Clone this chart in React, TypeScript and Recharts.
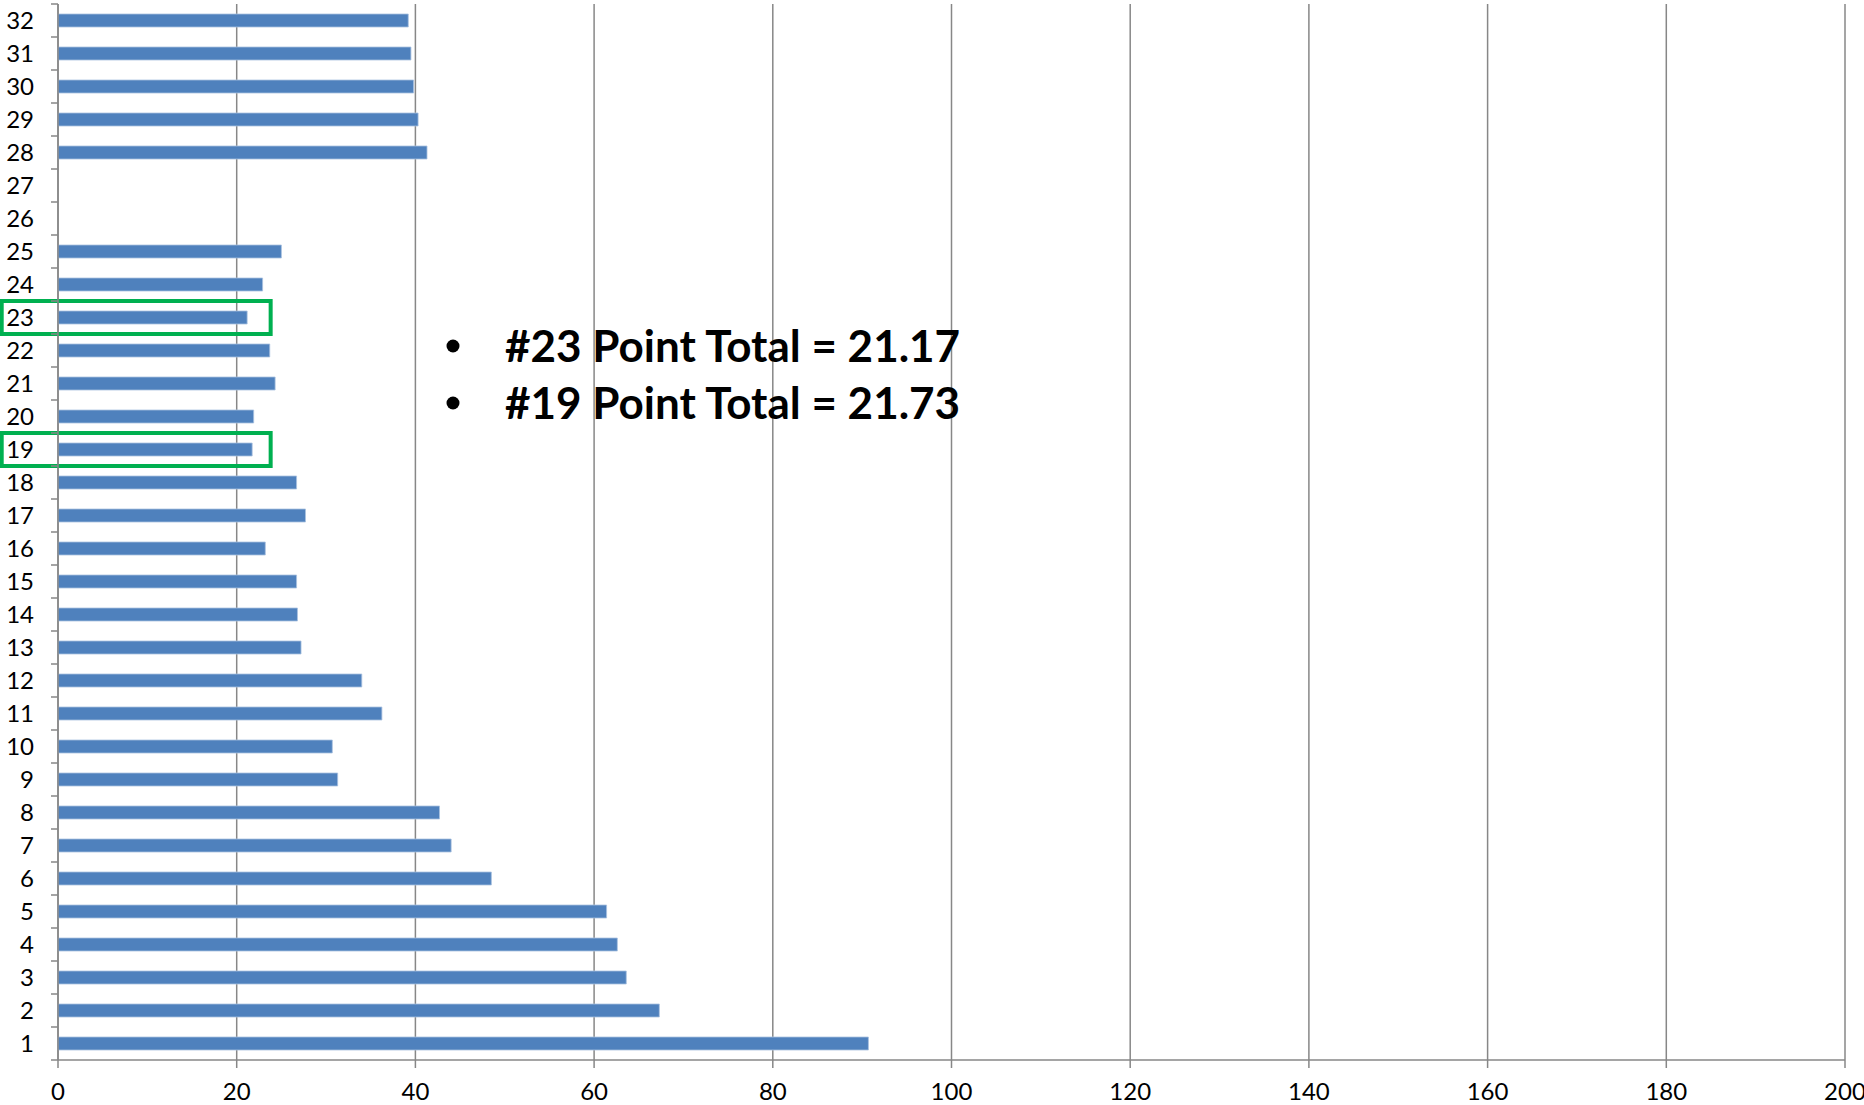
import { Bar, BarChart, CartesianGrid, ReferenceArea, XAxis, YAxis } from "recharts";

const categories = [
    "1", "2", "3", "4", "5", "6", "7", "8", "9", "10", "11", "12", "13", "14", "15", "16",
    "17", "18", "19", "20", "21", "22", "23", "24", "25", "26", "27", "28", "29", "30", "31", "32"
];

const pointTotals: (number | null)[] = [
    90.7, 67.3, 63.6, 62.6, 61.4, 48.5, 44.0, 42.7, 31.3, 30.7, 36.25, 34.0, 27.2, 26.8, 26.7, 23.2,
    27.7, 26.7, 21.73, 21.9, 24.3, 23.7, 21.17, 22.9, 25.0, null, null, 41.3, 40.3, 39.8, 39.5, 39.2
];

const xTicks = [0, 20, 40, 60, 80, 100, 120, 140, 160, 180, 200];

const highlighted = ["23", "19"];

const notes = ["#23 Point Total = 21.17", "#19 Point Total = 21.73"];

const chartData = categories.map((category, i) => ({ category, total: pointTotals[i] }));

const AXIS_GREY = "#878787";
const FONT = "Lato, 'Open Sans', sans-serif";

type TickProps = {
    x?: number;
    y?: number;
    index?: number;
    payload?: { value: string; offset?: number };
};

// excel style category ticks: the marks sit on the boundaries between categories
function CategoryTick({ x = 0, y = 0, index = 0, payload }: TickProps) {
    const half = payload?.offset ?? 16.5;
    return (
        <g>
            <line x1={x - 7} x2={x} y1={y + half} y2={y + half} stroke={AXIS_GREY} strokeWidth={1.5} />
            {index === categories.length - 1 && (
                <line x1={x - 7} x2={x} y1={y - half} y2={y - half} stroke={AXIS_GREY} strokeWidth={1.5} />
            )}
            <text x={x - 24} y={y} dy="0.36em" textAnchor="end" fontSize={24} fontFamily={FONT} fill="#000">
                {payload?.value}
            </text>
        </g>
    );
}

export default function App() {
    return (
        <div style={{ position: "absolute", left: 0, top: 0, width: 1864, height: 1105, background: "#fff" }}>
            <BarChart
                width={1864}
                height={1105}
                data={chartData}
                layout="vertical"
                margin={{ top: 4, right: 19, bottom: 0, left: 0 }}
                barSize={13}
            >
                <CartesianGrid horizontal={false} stroke={AXIS_GREY} strokeWidth={1.5} />
                <XAxis
                    type="number"
                    domain={[0, 200]}
                    ticks={xTicks}
                    interval={0}
                    height={45}
                    tickSize={8}
                    tickMargin={15}
                    stroke={AXIS_GREY}
                    strokeWidth={1.5}
                    tick={{ fontSize: 24, fontFamily: FONT, fill: "#000" }}
                />
                <YAxis
                    type="category"
                    dataKey="category"
                    reversed
                    width={58}
                    interval={0}
                    tickSize={0}
                    tickMargin={0}
                    tickLine={false}
                    stroke={AXIS_GREY}
                    strokeWidth={1.5}
                    tick={<CategoryTick />}
                />
                <Bar dataKey="total" fill="#4f81bd" stroke="#a9c1e0" strokeWidth={0.8} isAnimationActive={false} />
                {highlighted.map((c) => (
                    <ReferenceArea
                        key={c}
                        y1={c}
                        y2={c}
                        x1={-6.3}
                        x2={23.8}
                        ifOverflow="visible"
                        fill="none"
                        fillOpacity={0}
                        stroke="#00b050"
                        strokeWidth={4}
                    />
                ))}
            </BarChart>
            <svg
                width={1864}
                height={1105}
                style={{ position: "absolute", left: 0, top: 0, pointerEvents: "none" }}
            >
                {notes.map((note, i) => (
                    <g key={note}>
                        <circle cx={453} cy={346 + i * 57} r={6.5} fill="#000" />
                        <text x={505} y={362 + i * 57} fontSize={44} fontWeight={700} fontFamily={FONT} fill="#000">
                            {note}
                        </text>
                    </g>
                ))}
            </svg>
        </div>
    );
}
